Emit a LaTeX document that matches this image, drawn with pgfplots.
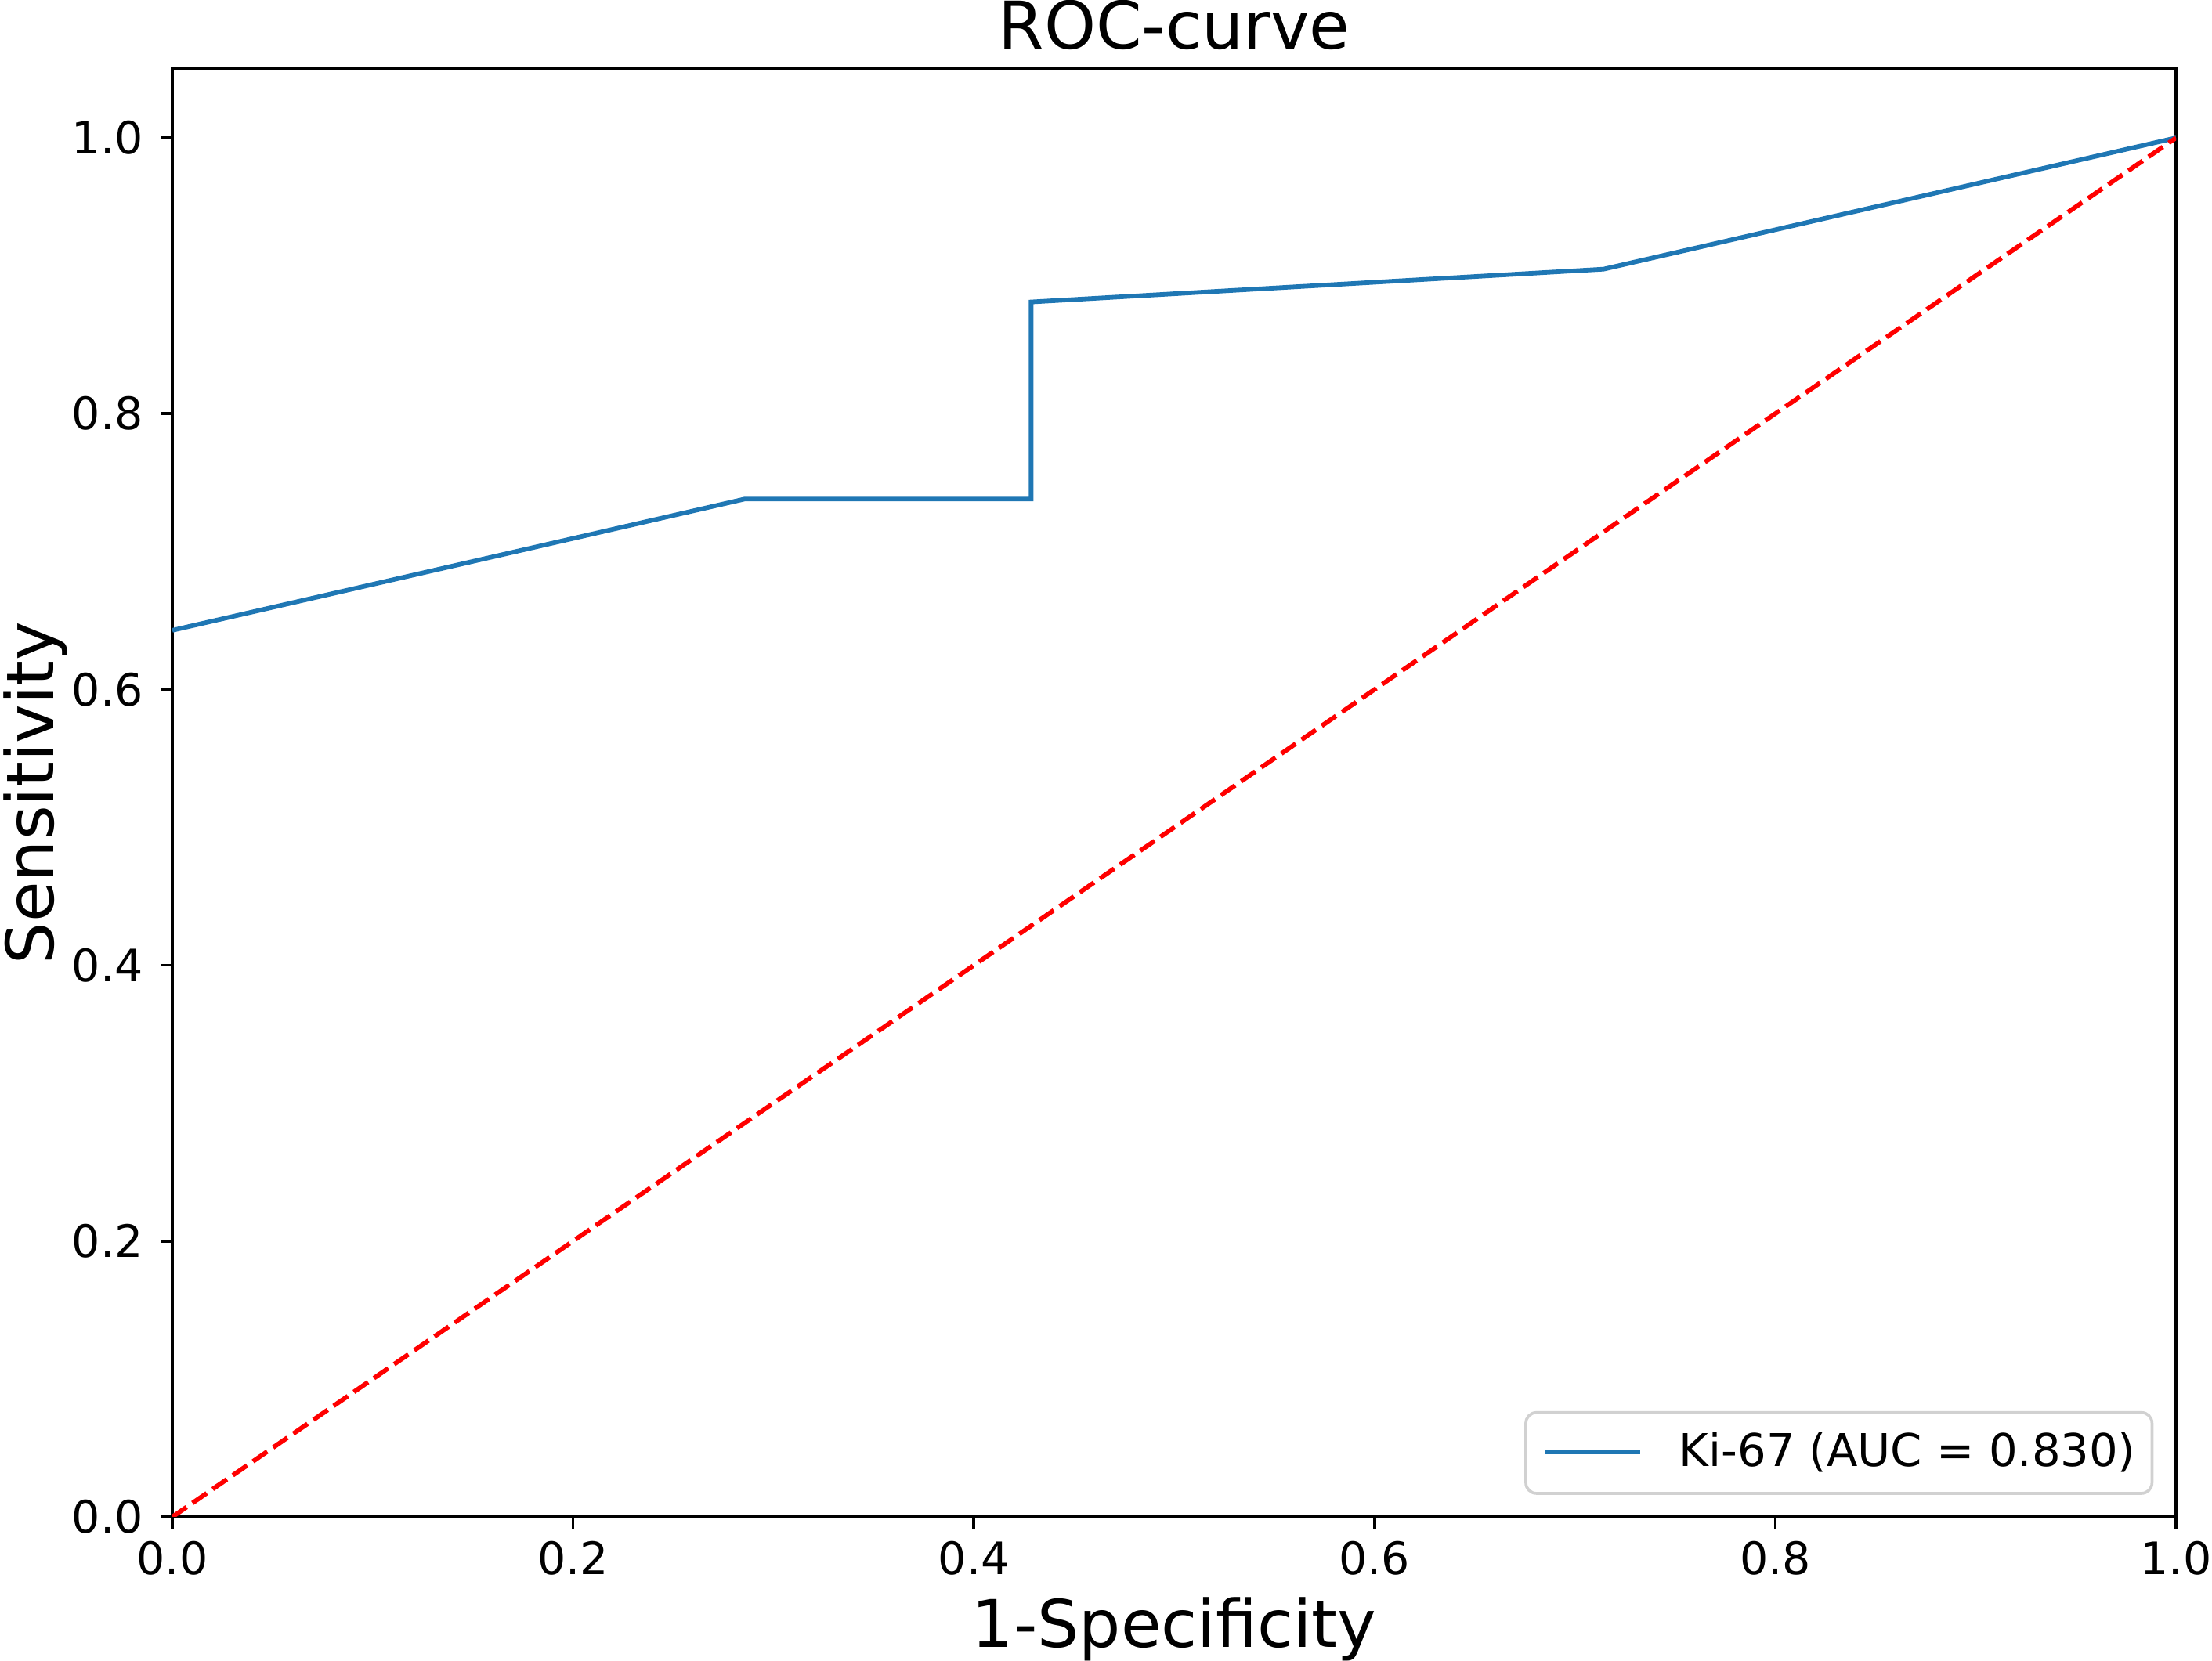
\documentclass[border=0pt]{standalone}
\usepackage{fontspec}
\setmainfont{DejaVu Sans}
\usepackage{pgfplots}
\pgfplotsset{compat=1.18}
\definecolor{mplblue}{HTML}{1F77B4}
\begin{document}
\begin{tikzpicture}
\begin{axis}[
  scale only axis,
  width=417.4pt, height=301.7pt,
  xmin=0, xmax=1, ymin=0, ymax=1.05,
  xtick={0,0.2,0.4,0.6,0.8,1.0},
  ytick={0,0.2,0.4,0.6,0.8,1.0},
  xticklabels={0.0,0.2,0.4,0.6,0.8,1.0},
  yticklabels={0.0,0.2,0.4,0.6,0.8,1.0},
  /pgf/number format/assume math mode=true,
  tick align=outside,
  major tick length=2.4pt,
  every tick/.style={black, line width=0.6pt},
  axis line style={line width=0.6pt},
  xtick pos=bottom, ytick pos=left,
  tick label style={font=\fontsize{9.3}{11}\selectfont},
  xticklabel style={anchor=north, inner sep=0pt, yshift=-2.5pt},
  yticklabel style={anchor=east, inner sep=0pt, xshift=-3.5pt},
  title={ROC-curve},
  every axis title/.style={at={(axis description cs:0.5,1.0136)}, anchor=base, inner sep=0pt, font=\fontsize{13.7}{16}\selectfont},
  xlabel={1-Specificity},
  ylabel={Sensitivity},
  every axis x label/.style={at={(axis description cs:0.5,-0.0898)}, anchor=base, inner sep=0pt, font=\fontsize{13.7}{16}\selectfont},
  every axis y label/.style={at={(axis description cs:-0.0594,0.5)}, anchor=base, rotate=90, inner sep=0pt, font=\fontsize{13.7}{16}\selectfont},
  legend style={at={(axis description cs:1,0)}, anchor=south east, xshift=-4.7pt, yshift=4.6pt,
    draw=black!18, line width=0.6pt, rounded corners=2.2pt,
    inner xsep=3.4pt, inner ysep=4.1pt,
    nodes={inner sep=0pt, anchor=base},
    column sep=7.6pt,
    font=\fontsize{9.4}{11}\selectfont},
  legend cell align=left,
  legend image code/.code={\draw[#1] (0pt,0.55ex) -- (20pt,0.55ex);},
]
\addplot[mplblue, line width=0.95pt] coordinates {
  (0,0.6429) (0.2857,0.7381) (0.4286,0.7381) (0.4286,0.8810) (0.7143,0.9048) (1,1)
};
\addlegendentry{Ki-67 (AUC = 0.830)\hspace{1.6pt}}
\addplot[red, line width=0.95pt, dash pattern=on 3.6pt off 1.5pt, forget plot] coordinates {(0,0) (1,1)};
\coordinate (A) at (rel axis cs:0,0);
\coordinate (B) at (rel axis cs:1,1);
\end{axis}
\pgfresetboundingbox
\path[use as bounding box] ([xshift=-35.9pt,yshift=-29.9pt]A) rectangle ([xshift=7.5pt,yshift=14.36pt]B);
\end{tikzpicture}
\end{document}
